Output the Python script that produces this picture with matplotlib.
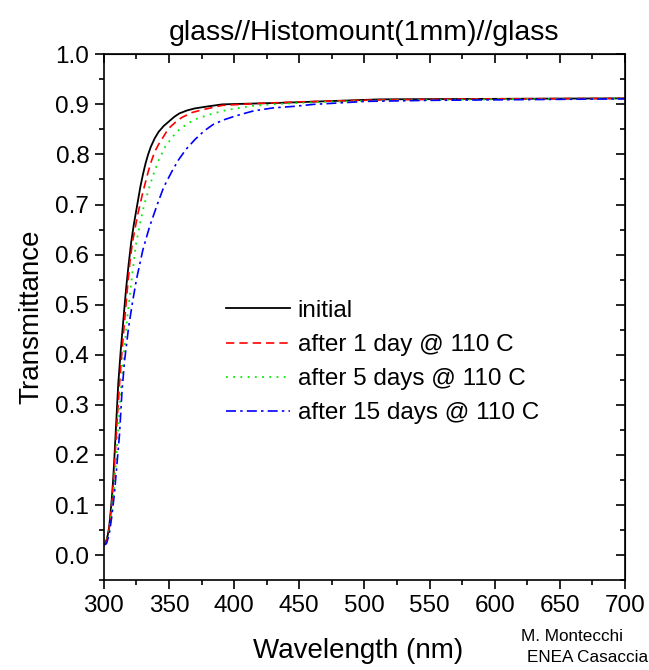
import matplotlib
matplotlib.use("Agg")
import matplotlib.pyplot as plt
from matplotlib.ticker import MultipleLocator

plt.rcParams['font.family'] = ['Liberation Sans', 'DejaVu Sans']

wl_initial = [300, 301, 302, 303, 304, 305, 306, 307, 308, 309, 310, 311, 313, 315, 317, 319, 321,
              323, 326, 328, 330, 332, 334, 336, 339, 342, 346, 350, 354, 358, 364, 370, 380, 391,
              435, 512, 600, 700]
t_initial = [0.020, 0.024, 0.030, 0.040, 0.055, 0.080, 0.110, 0.145, 0.190, 0.240, 0.290, 0.340,
             0.410, 0.470, 0.530, 0.580, 0.625, 0.660, 0.705, 0.735, 0.760, 0.782, 0.800, 0.815,
             0.832, 0.845, 0.857, 0.866, 0.875, 0.882, 0.888, 0.892, 0.896, 0.900, 0.903, 0.910,
             0.911, 0.912]

wl_1day = [300, 302, 304, 306, 308, 310, 312, 314, 316, 318, 320, 322, 326, 330, 334, 336, 339,
           342, 344, 348, 351, 354, 356, 360, 368, 377, 391, 420, 450, 512, 600, 700]
t_1day = [0.020, 0.028, 0.050, 0.100, 0.170, 0.260, 0.340, 0.410, 0.470, 0.530, 0.585, 0.625,
          0.680, 0.725, 0.765, 0.783, 0.805, 0.820, 0.828, 0.845, 0.855, 0.862, 0.867, 0.874,
          0.884, 0.890, 0.898, 0.902, 0.905, 0.909, 0.911, 0.912]

wl_5days = [300, 302, 304, 306, 308, 310, 312, 314, 316, 318, 320, 322, 324.6, 328, 331, 335, 338,
            342, 347, 353, 358, 365, 372, 384, 395, 414, 435, 470, 520, 600, 700]
t_5days = [0.020, 0.026, 0.045, 0.085, 0.140, 0.210, 0.290, 0.360, 0.420, 0.475, 0.520, 0.565,
           0.620, 0.665, 0.700, 0.735, 0.760, 0.788, 0.815, 0.836, 0.850, 0.863, 0.872, 0.882,
           0.889, 0.897, 0.901, 0.905, 0.908, 0.910, 0.912]

wl_15days = [300, 302, 304, 306, 308, 310, 312, 314, 316, 319, 322, 325, 330, 335, 341, 346, 352,
             357, 363, 370, 377, 384, 392, 400, 408, 415, 430, 446, 461, 502, 550, 600, 650, 700]
t_15days = [0.020, 0.023, 0.040, 0.075, 0.120, 0.180, 0.240, 0.330, 0.390, 0.455, 0.505, 0.550,
            0.610, 0.655, 0.700, 0.735, 0.765, 0.788, 0.810, 0.830, 0.847, 0.860, 0.869, 0.876,
            0.882, 0.887, 0.893, 0.896, 0.900, 0.906, 0.908, 0.909, 0.910, 0.911]

labels = ["initial", "after 1 day @ 110 C", "after 5 days @ 110 C", "after 15 days @ 110 C"]

fig = plt.figure(figsize=(6.49, 6.70), dpi=100)
ax = fig.add_axes([0.160, 0.134, 0.803, 0.785])

ax.plot(wl_initial, t_initial, color='black', lw=1.3, ls='-', label=labels[0])
ax.plot(wl_1day, t_1day, color='red', lw=1.2, ls=(0, (5, 3)), label=labels[1])
ax.plot(wl_5days, t_5days, color='#00ee00', lw=1.3, ls=(0, (1, 3)), label=labels[2])
ax.plot(wl_15days, t_15days, color='blue', lw=1.2, ls=(0, (6, 2.5, 1.5, 2.5)), label=labels[3])

ax.set_xlim(300, 700)
ax.set_ylim(-0.05, 1.0)
ax.xaxis.set_major_locator(MultipleLocator(50))
ax.xaxis.set_minor_locator(MultipleLocator(25))
ax.yaxis.set_major_locator(MultipleLocator(0.1))
ax.yaxis.set_minor_locator(MultipleLocator(0.05))
ax.yaxis.set_major_formatter(lambda v, p: f"{v:.1f}")

for s in ax.spines.values():
    s.set_linewidth(1.2)

ax.tick_params(which='both', direction='out', width=1.2, labelsize=17.5, pad=4)
ax.tick_params(which='major', length=6.5)
ax.tick_params(which='minor', length=3.3)

# mirrored ticks pointing inward on top and right
top = ax.secondary_xaxis('top')
top.xaxis.set_major_locator(MultipleLocator(50))
top.xaxis.set_minor_locator(MultipleLocator(25))
top.tick_params(which='both', direction='in', width=1.2, labeltop=False)
top.tick_params(which='major', length=6.5)
top.tick_params(which='minor', length=3.3)
right = ax.secondary_yaxis('right')
right.yaxis.set_major_locator(MultipleLocator(0.1))
right.yaxis.set_minor_locator(MultipleLocator(0.05))
right.tick_params(which='both', direction='in', width=1.2, labelright=False)
right.tick_params(which='major', length=6.5)
right.tick_params(which='minor', length=3.3)

ax.set_xlabel("Wavelength (nm)", fontsize=20)
ax.xaxis.set_label_coords(0.487, -0.135, transform=ax.transAxes)
ax.xaxis.label.set_va('center')
ax.set_ylabel("Transmittance", fontsize=20, labelpad=8)
ax.set_title("glass//Histomount(1mm)//glass", fontsize=20.5, pad=10)

ax.legend(loc='upper left', bbox_to_anchor=(0.235, 0.533), frameon=False, fontsize=17.5,
          handlelength=2.6, handletextpad=0.33, labelspacing=0.50, borderpad=0, borderaxespad=0)

fig.text(0.881, 0.050, "M. Montecchi", fontsize=12.3, ha='center', va='center')
fig.text(0.906, 0.019, "ENEA Casaccia", fontsize=12.3, ha='center', va='center')

fig.savefig("out.png", dpi=100)
